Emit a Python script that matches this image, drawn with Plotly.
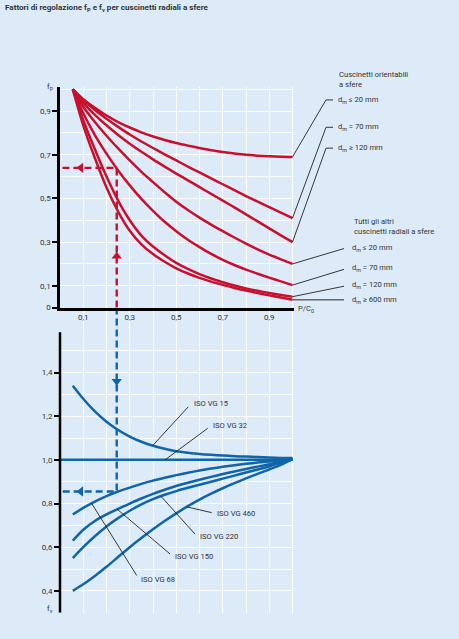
import numpy as np
import plotly.graph_objects as go

W, H = 459, 639
BG = "#dcebf7"
RED = "#c8102e"
BLUE = "#1064a8"
INK = "#333333"
FONT = "Roboto"

# ---------------- data ----------------
load_ratio = [0.055, 0.1, 0.15, 0.2, 0.25, 0.3, 0.35, 0.4, 0.45, 0.5,
              0.55, 0.6, 0.65, 0.7, 0.75, 0.8, 0.85, 0.9, 0.95, 1.0]  # P/C0

# f_P : self-aligning ball bearings
fp_sa_20 = [1.0, 0.955, 0.915, 0.88, 0.85, 0.825, 0.803, 0.784, 0.768, 0.754,
            0.742, 0.731, 0.721, 0.713, 0.706, 0.700, 0.696, 0.693, 0.691, 0.69]
fp_sa_70 = [1.0, 0.95, 0.905, 0.865, 0.828, 0.793, 0.761, 0.731, 0.702, 0.674,
            0.646, 0.619, 0.592, 0.565, 0.538, 0.511, 0.485, 0.46, 0.435, 0.41]
fp_sa_120 = [1.0, 0.938, 0.883, 0.835, 0.791, 0.751, 0.714, 0.679, 0.646, 0.614,
             0.583, 0.552, 0.521, 0.49, 0.459, 0.427, 0.395, 0.363, 0.331, 0.30]
# f_P : all other radial ball bearings
fp_ot_20 = [1.0, 0.92, 0.85, 0.787, 0.729, 0.674, 0.622, 0.575, 0.528, 0.485,
            0.447, 0.412, 0.38, 0.35, 0.321, 0.293, 0.267, 0.243, 0.221, 0.2]
fp_ot_70 = [1.0, 0.89, 0.79, 0.705, 0.628, 0.56, 0.498, 0.443, 0.393, 0.35,
            0.311, 0.277, 0.246, 0.219, 0.195, 0.174, 0.155, 0.137, 0.12, 0.103]
fp_ot_120 = [1.0, 0.86, 0.725, 0.6, 0.49, 0.4, 0.33, 0.28, 0.24, 0.205,
             0.177, 0.153, 0.133, 0.116, 0.101, 0.088, 0.077, 0.067, 0.058, 0.05]
fp_ot_600 = [1.0, 0.835, 0.685, 0.55, 0.44, 0.352, 0.29, 0.245, 0.21, 0.18,
             0.156, 0.136, 0.119, 0.104, 0.09, 0.078, 0.067, 0.056, 0.046, 0.036]

fp_sa_labels = ["d<sub>m</sub> ≤ 20 mm", "d<sub>m</sub> = 70 mm", "d<sub>m</sub> ≥ 120 mm"]
fp_ot_labels = ["d<sub>m</sub> ≤ 20 mm", "d<sub>m</sub> = 70 mm", "d<sub>m</sub> = 120 mm", "d<sub>m</sub> ≥ 600 mm"]

# f_v : viscosity grades
fv_vg15 = [1.34, 1.28, 1.222, 1.175, 1.137, 1.107, 1.083, 1.065, 1.051, 1.04,
           1.033, 1.027, 1.023, 1.02, 1.017, 1.015, 1.013, 1.011, 1.009, 1.008]
fv_vg32_x = [0.0, 1.0]
fv_vg32 = [1.0, 1.0]
fv_vg68 = [0.75, 0.78, 0.809, 0.834, 0.855, 0.873, 0.89, 0.905, 0.918, 0.93,
           0.941, 0.951, 0.96, 0.968, 0.975, 0.982, 0.988, 0.993, 0.998, 1.003]
fv_vg150 = [0.63, 0.68, 0.72, 0.75, 0.776, 0.8, 0.823, 0.844, 0.863, 0.88,
            0.895, 0.909, 0.922, 0.935, 0.947, 0.958, 0.969, 0.98, 0.991, 1.003]
fv_vg220 = [0.55, 0.6, 0.65, 0.695, 0.733, 0.767, 0.796, 0.82, 0.84, 0.857,
            0.872, 0.886, 0.9, 0.914, 0.928, 0.942, 0.956, 0.97, 0.986, 1.003]
fv_vg460 = [0.40, 0.43, 0.468, 0.51, 0.555, 0.6, 0.642, 0.682, 0.72, 0.755,
            0.788, 0.818, 0.845, 0.87, 0.893, 0.915, 0.936, 0.956, 0.977, 1.003]

# worked example
example_load = 0.244
example_fp = 0.64
example_fv = 0.855

# tick labels
fp_tickvals = [0, 0.1, 0.3, 0.5, 0.7, 0.9]
fp_ticktext = ["0", "0,1", "0,3", "0,5", "0,7", "0,9"]
x_tickvals = [0.1, 0.3, 0.5, 0.7, 0.9]
x_ticktext = ["0,1", "0,3", "0,5", "0,7", "0,9"]
fv_tickvals = [0.4, 0.6, 0.8, 1.0, 1.2, 1.4]
fv_ticktext = ["0,4", "0,6", "0,8", "1,0", "1,2", "1,4"]

# ---------------- geometry helpers ----------------
def px(xp):
    return xp / W


def py(yp):
    return 1 - yp / H


X_RANGE = [0, 1.005]
X_DOM = [px(60), px(60 + 232.5 * 1.005)]
# top panel (f_P) uses x2/y2 so its tick labels sit above the lower panel's grid
TOP_RANGE = [0, 1.01]
TOP_DOM = [py(310), py(310 - 220 * 1.01)]
# lower panel (f_v) uses x/y
BOT_RANGE = [0.3, 0.3 + 307.5 / 220]
BOT_DOM = [py(617.5), py(310)]


def x_to_paper(v):
    return X_DOM[0] + (v - X_RANGE[0]) / (X_RANGE[1] - X_RANGE[0]) * (X_DOM[1] - X_DOM[0])


fig = go.Figure()


def curve(x, y, color, xa, ya):
    fig.add_trace(go.Scatter(x=x, y=y, mode="lines", xaxis=xa, yaxis=ya,
                             line=dict(color=color, width=2.5, shape="spline", smoothing=0.6),
                             hoverinfo="skip", showlegend=False))


for s in [fp_sa_20, fp_sa_70, fp_sa_120, fp_ot_20, fp_ot_70, fp_ot_120, fp_ot_600]:
    curve(load_ratio, s, RED, "x2", "y2")

curve(fv_vg32_x, fv_vg32, BLUE, "x", "y")
for s in [fv_vg15, fv_vg68, fv_vg150, fv_vg220, fv_vg460]:
    curve(load_ratio, s, BLUE, "x", "y")

# worked example (dashed)
dash = "7px,4px"
fig.add_trace(go.Scatter(x=[example_load, example_load, 0], y=[0, example_fp, example_fp],
                         xaxis="x2", yaxis="y2", mode="lines",
                         line=dict(color=RED, width=2.4, dash=dash),
                         hoverinfo="skip", showlegend=False))
fig.add_trace(go.Scatter(x=[example_load, example_load, 0], y=[BOT_RANGE[1], example_fv, example_fv],
                         xaxis="x", yaxis="y", mode="lines",
                         line=dict(color=BLUE, width=2.4, dash=dash),
                         hoverinfo="skip", showlegend=False))
fig.add_trace(go.Scatter(x=[0.09, example_load], y=[example_fp, 0.235], xaxis="x2", yaxis="y2",
                         mode="markers",
                         marker=dict(symbol=["triangle-left", "triangle-up"], size=9, color=RED),
                         hoverinfo="skip", showlegend=False))
fig.add_trace(go.Scatter(x=[example_load, 0.09], y=[1.36, example_fv], xaxis="x", yaxis="y",
                         mode="markers",
                         marker=dict(symbol=["triangle-down", "triangle-left"], size=9, color=BLUE),
                         hoverinfo="skip", showlegend=False))

tickfont = dict(family=FONT, size=8, color=INK)
grid = "rgba(255,255,255,0.95)"
minor_x = dict(tickvals=[0.2, 0.4, 0.6, 0.8, 1.0], showgrid=True, gridcolor=grid, gridwidth=1.3, ticks="")

fig.update_layout(
    width=W, height=H, margin=dict(l=0, r=0, t=0, b=0),
    paper_bgcolor=BG, plot_bgcolor=BG, showlegend=False,
    # lower panel
    xaxis=dict(domain=X_DOM, range=X_RANGE, anchor="y", tickmode="array",
               tickvals=x_tickvals, showticklabels=False, ticks="",
               showgrid=True, gridcolor=grid, gridwidth=1.3, zeroline=False, showline=False,
               minor=minor_x),
    yaxis=dict(domain=BOT_DOM, range=BOT_RANGE, anchor="x", tickmode="array",
               tickvals=fv_tickvals, ticktext=fv_ticktext, ticks="outside", ticklen=5,
               tickwidth=1.5, tickcolor="black", tickfont=tickfont,
               showgrid=True, gridcolor=grid, gridwidth=1.3, zeroline=False, showline=False,
               minor=dict(tickvals=[0.3, 0.5, 0.7, 0.9, 1.1, 1.3, 1.5], showgrid=True,
                          gridcolor=grid, gridwidth=1.3, ticks="")),
    # upper panel
    xaxis2=dict(domain=X_DOM, range=X_RANGE, anchor="y2", tickmode="array",
                tickvals=x_tickvals, ticktext=x_ticktext, ticks="", tickfont=tickfont,
                showgrid=True, gridcolor=grid, gridwidth=1.3, zeroline=False,
                showline=True, linecolor="black", linewidth=2.5, minor=minor_x),
    yaxis2=dict(domain=TOP_DOM, range=TOP_RANGE, anchor="x2", tickmode="array",
                tickvals=fp_tickvals, ticktext=fp_ticktext, ticks="outside", ticklen=5,
                tickwidth=1.5, tickcolor="black", tickfont=tickfont,
                showgrid=True, gridcolor=grid, gridwidth=1.3, zeroline=False,
                showline=True, linecolor="black", linewidth=2.5,
                minor=dict(tickvals=[0.2, 0.4, 0.6, 0.8, 1.0], showgrid=True,
                           gridcolor=grid, gridwidth=1.3, ticks="")),
)

# lower y-axis line (starts a little below the top of the panel)
fig.add_shape(type="line", xref="paper", yref="y", x0=X_DOM[0], x1=X_DOM[0],
              y0=BOT_RANGE[0], y1=1.585, line=dict(color="black", width=2.5), layer="above")

lab = dict(family=FONT, size=7.6, color=INK)


def ptext(text, x, y, size=7.6, bold=False, xanchor="left"):
    f = dict(lab)
    f["size"] = size
    if bold:
        text = "<b>" + text + "</b>"
    fig.add_annotation(text=text, xref="paper", yref="paper", x=px(x), y=py(y),
                       xanchor=xanchor, yanchor="middle", showarrow=False, font=f, align="left")


# title
ptext("Fattori di regolazione f<sub>P</sub> e f<sub>v</sub> per cuscinetti radiali a sfere", 3, 8, size=8.1, bold=True)

# axis titles
ptext("f<sub>P</sub>", 45, 88)
ptext("f<sub>v</sub>", 45, 614)
ptext("P/C<sub>0</sub>", 296, 311)


def to_x(p):
    return (p - 60) / 232.5


def to_top(p):
    return (310 - p) / 220


def to_bot(p):
    return 0.3 + (617.5 - p) / 220


def leader_top(yend, tail_px, tail_y, color="#222222", width=0.9):
    # head at curve end (data y), tail at label (paper x)
    fig.add_shape(type="line", xref="paper", yref="y2",
                  x0=x_to_paper(load_ratio[-1]), y0=yend, x1=px(tail_px), y1=tail_y,
                  line=dict(color=color, width=width))


# self-aligning
ptext("Cuscinetti orientabili<br>a sfere", 337, 80)
sa_label_y = [100.7, 128.3, 149.3]
for s, lbl, ly in zip([fp_sa_20, fp_sa_70, fp_sa_120], fp_sa_labels, sa_label_y):
    leader_top(s[-1], 326, to_top(ly))
    fig.add_shape(type="line", xref="paper", yref="paper", x0=px(326), x1=px(333),
                  y0=py(ly), y1=py(ly), line=dict(color="#222222", width=0.9))
    ptext(lbl, 336, ly)

# others
ptext("Tutti gli altri<br>cuscinetti radiali a sfere", 352, 228)
ot_label_y = [249.5, 270.5, 287.5, 302]
for i, (s, lbl, ly) in enumerate(zip([fp_ot_20, fp_ot_70, fp_ot_120, fp_ot_600], fp_ot_labels, ot_label_y)):
    if i < 3:
        leader_top(s[-1], 344, to_top(ly + 1))
    else:
        leader_top(s[-1], 344, s[-1], color="#666666", width=1.4)
    ptext(lbl, 350, ly)

# ---------- leader lines lower chart ----------
vg_labels = ["ISO VG 15", "ISO VG 32", "ISO VG 460", "ISO VG 220", "ISO VG 150", "ISO VG 68"]
vg_series = [(load_ratio, fv_vg15), (fv_vg32_x, fv_vg32), (load_ratio, fv_vg460),
             (load_ratio, fv_vg220), (load_ratio, fv_vg150), (load_ratio, fv_vg68)]
vg_head_x = [0.3987, 0.4516, 0.545, 0.434, 0.246, 0.136]
vg_tail = [(188.3, 410), (207.7, 431.7), (211.7, 516.7), (195, 538.3), (170, 558.3), (136.7, 580)]
vg_text = [(192, 406.7), (211, 429.3), (214.5, 517.3), (198, 540.7), (173, 561), (139, 584)]
for lbl, (sx, sy), hx, (tx, ty), (lx, ly) in zip(vg_labels, vg_series, vg_head_x, vg_tail, vg_text):
    hy = float(np.interp(hx, sx, sy))
    fig.add_shape(type="line", xref="x", yref="y", x0=hx, y0=hy, x1=to_x(tx), y1=to_bot(ty),
                  line=dict(color="#222222", width=0.9))
    ptext(lbl, lx, ly)

fig.write_html("out.html", config={"displayModeBar": False},
               post_script="document.body.style.margin='0';document.body.style.overflow='hidden';")
